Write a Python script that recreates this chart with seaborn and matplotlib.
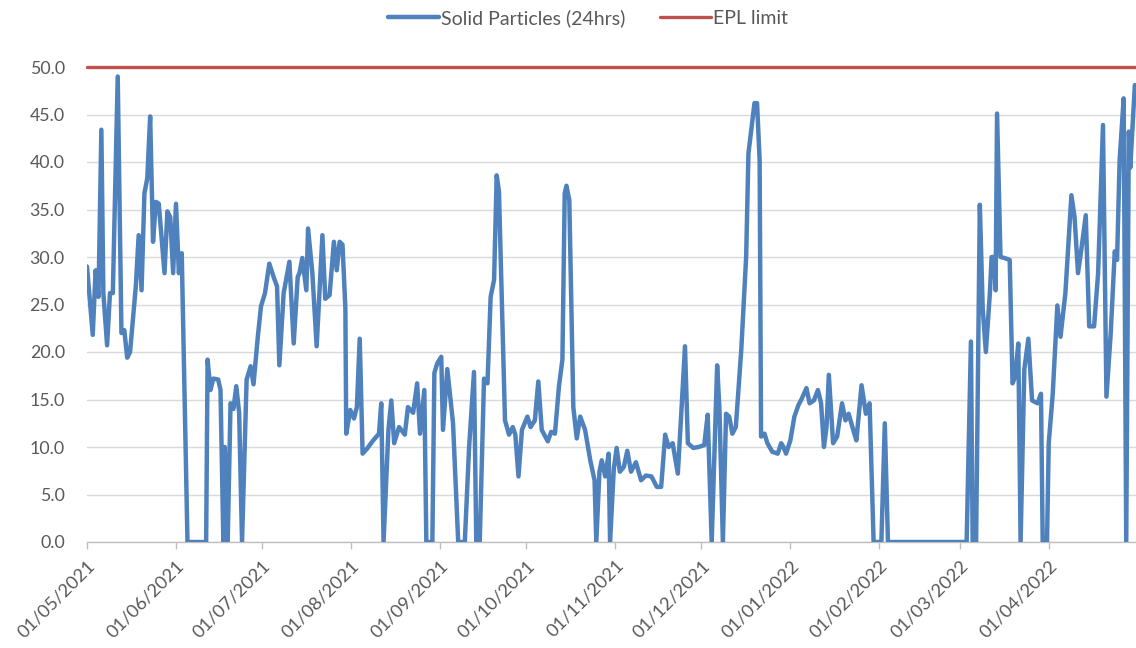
import numpy as np
import pandas as pd
import matplotlib
matplotlib.use("Agg")
import matplotlib.pyplot as plt
import matplotlib.dates as mdates
import seaborn as sns

# ---- data (day offset from 01/05/2021, value) ----
start_date = "2021-05-01"
day_offsets = [
    0, 2, 3, 4, 5, 5.7, 7, 8, 9, 10.7, 12, 13, 14, 15, 17, 18, 19, 20, 21, 22,
    23, 24, 25, 27, 28, 29, 30, 31, 32, 33, 35, 41.5, 42, 43, 44, 45.7, 46.5, 47.5, 48, 49,
    50, 51, 52, 53, 54, 55.6, 57, 58, 59.5, 60.6, 62, 63.5, 65, 66.2, 67, 68.5, 70.5, 72, 73.4, 74,
    75, 76.4, 77, 78.5, 80, 82, 83, 84.5, 86, 87, 88, 89, 90, 90.3, 91.7, 93, 94, 95, 96, 97.5,
    99.7, 101.7, 102.5, 103.3, 105, 106, 107, 108.7, 110.7, 111.8, 113.6, 115, 116, 117.5, 118.2, 120.3, 121, 122, 123.4, 124,
    125.5, 127.5, 129.3, 131.6, 133.1, 134.8, 135.6, 136.8, 138.3, 139.5, 140.6, 141.8, 142.7, 143.5, 144.5, 145.6, 147, 148.3, 149.2, 150.3,
    151.5, 153.4, 154.5, 156, 157.2, 158.4, 160.5, 161.7, 163, 164.4, 165.6, 166.4, 167, 168, 169.4, 170.6, 171.8, 173.5, 175.3, 176.8,
    177.4, 178.5, 179.3, 180.5, 181.7, 182.2, 183.5, 184.5, 185.6, 187, 188.2, 189.5, 191.2, 193, 194.7, 196.6, 198.5, 200, 201.4, 202.6,
    204, 205.8, 207, 208.3, 209.3, 211.2, 213, 215, 216.2, 217.6, 219.5, 220.3, 221.5, 222.6, 223.7, 224.8, 226, 227.9, 229.6, 230.4,
    231.6, 232.5, 233.4, 234.3, 234.8, 236, 237, 238.7, 240.6, 241.8, 242.6, 243.5, 245, 246.4, 247.8, 249, 250.6, 251.7, 253.2, 254.6,
    255.7, 256.7, 257.6, 258.4, 259.9, 261.3, 263, 264.2, 265.3, 266.9, 268, 269.8, 271.3, 272.6, 274, 276.7, 277.9, 279, 306.4, 307.9,
    308.5, 309.7, 311, 312, 313.1, 314.5, 315.1, 316, 316.5, 317, 318.2, 319.5, 321.4, 322.4, 323.3, 324.4, 325.2, 326.5, 327.9, 329.2,
    331.1, 332.3, 332.9, 334.4, 335, 336.4, 338, 339.1, 340.8, 342.9, 344, 345.2, 346.5, 347.9, 349.1, 350.8, 352.2, 353.9, 355.1, 356.6,
    358, 358.8, 359.7, 361.1, 362, 362.9, 363.4, 365,
]
solid_particles = [
    29.0, 21.8, 28.6, 25.8, 43.4, 26.2, 20.7, 26.2, 26.2, 49.0, 22.0, 22.3, 19.4, 20.0, 26.9, 32.3, 26.5, 36.7, 38.3, 44.8,
    31.6, 35.8, 35.6, 28.3, 34.8, 34.2, 28.3, 35.6, 28.3, 30.4, 0.0, 0.0, 19.2, 16.0, 17.2, 17.1, 16.0, 0.0, 10.0, 0.0,
    14.6, 14.0, 16.4, 13.6, 0.0, 17.1, 18.5, 16.6, 21.6, 24.8, 26.2, 29.3, 27.9, 26.9, 18.6, 26.2, 29.5, 20.9, 27.9, 28.3,
    29.9, 26.5, 33.0, 28.3, 20.6, 32.3, 25.6, 26.0, 31.6, 28.6, 31.6, 31.3, 24.6, 11.4, 13.9, 13.0, 14.2, 21.4, 9.3, 9.8,
    10.7, 11.4, 14.6, 0.0, 11.8, 14.9, 10.4, 12.1, 11.3, 14.2, 13.6, 16.7, 11.4, 16.0, 0.0, 0.0, 17.8, 18.8, 19.5, 11.8,
    18.2, 12.5, 0.0, 0.0, 10.0, 17.9, 0.0, 0.0, 17.2, 16.7, 25.8, 27.6, 38.6, 36.9, 25.5, 12.8, 11.3, 12.1, 11.3, 6.9,
    11.8, 13.2, 12.1, 12.8, 16.9, 11.8, 10.6, 11.6, 11.4, 16.4, 19.2, 36.7, 37.5, 36.0, 14.2, 10.9, 13.2, 11.8, 8.6, 6.5,
    0.0, 7.4, 8.6, 6.9, 9.3, 0.0, 7.7, 9.9, 7.4, 7.9, 9.6, 7.4, 8.4, 6.5, 7.0, 6.9, 5.8, 5.8, 11.3, 10.0,
    10.4, 7.2, 13.5, 20.6, 10.4, 9.9, 10.0, 10.2, 13.4, 0.0, 18.6, 14.0, 0.0, 13.5, 13.2, 11.4, 12.1, 20.2, 30.0, 40.9,
    43.9, 46.2, 46.2, 40.2, 11.1, 11.4, 10.4, 9.5, 9.3, 10.4, 10.0, 9.3, 10.7, 13.2, 14.4, 15.1, 16.2, 14.6, 14.9, 16.0,
    14.6, 10.0, 12.1, 17.6, 10.4, 11.1, 14.6, 12.8, 13.5, 11.8, 10.7, 16.5, 13.5, 14.6, 0.0, 0.0, 12.5, 0.0, 0.0, 21.1,
    0.0, 0.0, 35.5, 24.6, 20.0, 26.2, 30.0, 30.0, 26.5, 45.1, 30.0, 29.9, 29.7, 16.7, 17.4, 20.9, 0.0, 18.2, 21.4, 14.9,
    14.6, 15.6, 0.0, 0.0, 10.4, 15.6, 24.9, 21.6, 26.2, 36.5, 34.2, 28.3, 31.1, 34.4, 22.7, 22.7, 28.3, 43.9, 15.3, 22.0,
    30.6, 29.7, 40.2, 46.7, 0.0, 43.2, 39.4, 48.1,
]
epl_limit = 50.0
y_ticks = [0, 5, 10, 15, 20, 25, 30, 35, 40, 45, 50]

start = pd.Timestamp(start_date)
dates = start + pd.to_timedelta(np.array(day_offsets, dtype=float), unit="D")
df = pd.DataFrame({"date": dates, "value": solid_particles})
x_end = start + pd.Timedelta(days=365.4)
df_limit = pd.DataFrame({"date": [start, x_end], "value": [epl_limit, epl_limit]})

sns.set_theme(style="white")
plt.rcParams["font.family"] = ["Lato", "DejaVu Sans"]

fig = plt.figure(figsize=(11.36, 6.48), dpi=100)
ax = fig.add_axes([87 / 1136, 1 - 542 / 648, 1 - 87 / 1136, (542 - 67) / 648])

blue = "#4f81bd"
red = "#c0504d"
sns.lineplot(data=df, x="date", y="value", ax=ax, color=blue, linewidth=3.2,
             label="Solid Particles (24hrs)", zorder=3, solid_joinstyle="round")
sns.lineplot(data=df_limit, x="date", y="value", ax=ax, color=red, linewidth=2.4,
             label="EPL limit", zorder=4, clip_on=False)

ax.set_xlim(start, x_end)
ax.set_ylim(0, 50)
ax.set_yticks(y_ticks)
ax.set_yticklabels([f"{v:.1f}" for v in y_ticks])
ax.yaxis.grid(True, color="#d9d9d9", linewidth=1.0)
ax.set_axisbelow(True)
ax.xaxis.grid(False)

months = pd.date_range("2021-05-01", "2022-04-01", freq="MS")
ax.set_xticks(months)
ax.xaxis.set_major_formatter(mdates.DateFormatter("%d/%m/%Y"))
for lbl in ax.get_xticklabels():
    lbl.set_rotation(45)
    lbl.set_ha("right")
    lbl.set_va("top")
    lbl.set_rotation_mode("anchor")

ax.tick_params(axis="x", which="major", bottom=True, length=5, width=1, color="#bfbfbf",
               labelsize=13.2, labelcolor="#595959", pad=6)
ax.tick_params(axis="y", left=False, length=0, labelsize=12.8, labelcolor="#595959", pad=16)

for side in ["top", "right", "left"]:
    ax.spines[side].set_visible(False)
ax.spines["bottom"].set_color("#bfbfbf")
ax.spines["bottom"].set_linewidth(1.0)

ax.set_xlabel("")
ax.set_ylabel("")

leg = ax.legend(loc="center", bbox_to_anchor=(588 / 1136, 1 - 18 / 648),
                bbox_transform=fig.transFigure, ncol=2, frameon=False,
                fontsize=14, handlelength=2.6, handletextpad=0.1, columnspacing=1.8)
for t in leg.get_texts():
    t.set_color("#595959")

fig.savefig("out.png", dpi=100, facecolor="white")
